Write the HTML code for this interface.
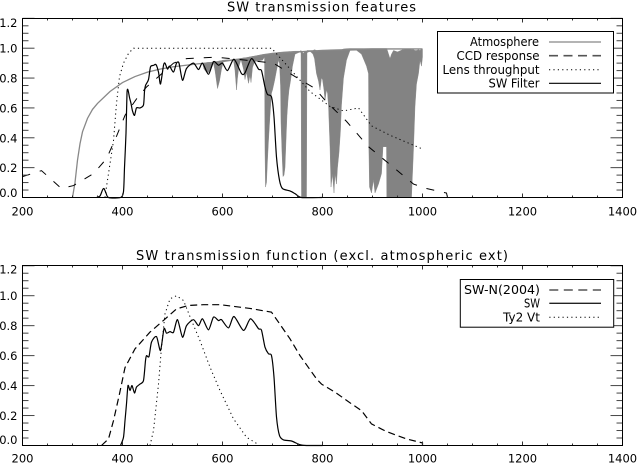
<!DOCTYPE html>
<html>
<head>
<meta charset="utf-8">
<title>SW transmission</title>
<style>
html,body{margin:0;padding:0;background:#fff;}
#chart{display:block;width:637px;height:463px;}
text{font-family:"DejaVu Sans","Liberation Sans",sans-serif;font-size:11.5px;fill:#000;}
.ttl{font-size:13px;}
.lg{font-size:12px;}
</style>
</head>
<body>
<svg id="chart" xmlns="http://www.w3.org/2000/svg" width="637" height="463" viewBox="0 0 637 463">
<g id="top-marks"></g>
<g id="top-axes"></g>
<g id="bottom-marks"></g>
<g id="bottom-axes"></g>
<text class="ttl" x="227" y="11.5" textLength="189" lengthAdjust="spacing">SW transmission features</text>
<text class="ttl" x="136" y="260" textLength="372" lengthAdjust="spacing">SW transmission function (excl. atmospheric ext)</text>

<g>
<rect x="437.5" y="31.5" width="176" height="61.5" fill="#fff" stroke="#000" stroke-width="1"/>
<text class="lg" x="470" y="46" textLength="69" lengthAdjust="spacingAndGlyphs">Atmosphere</text>
<text class="lg" x="456.5" y="60" textLength="83" lengthAdjust="spacingAndGlyphs">CCD response</text>
<text class="lg" x="442.5" y="74" textLength="97" lengthAdjust="spacingAndGlyphs">Lens throughput</text>
<text class="lg" x="488.5" y="87.3" textLength="51" lengthAdjust="spacingAndGlyphs">SW Filter</text>
<line x1="549" x2="601" y1="42" y2="42" stroke="#888" stroke-width="1.2"/>
<line x1="549" x2="601" y1="55.7" y2="55.7" stroke="#555" stroke-width="1.6" stroke-dasharray="9 5.5"/>
<line x1="549" x2="601" y1="69.7" y2="69.7" stroke="#000" stroke-width="1" stroke-dasharray="1.2 3.2"/>
<line x1="549" x2="601" y1="83.3" y2="83.3" stroke="#000" stroke-width="1.1"/>
</g>

<g>
<rect x="460.3" y="279.5" width="153.4" height="47.7" fill="#fff" stroke="#000" stroke-width="1"/>
<text class="lg" x="464" y="294" textLength="76" lengthAdjust="spacingAndGlyphs">SW-N(2004)</text>
<text class="lg" x="524" y="307.7" textLength="16" lengthAdjust="spacingAndGlyphs">SW</text>
<text class="lg" x="503" y="321.7" textLength="37" lengthAdjust="spacingAndGlyphs">Ty2 Vt</text>
<line x1="549.3" x2="601" y1="290" y2="290" stroke="#555" stroke-width="1.6" stroke-dasharray="9 5.5"/>
<line x1="549.3" x2="601" y1="303.3" y2="303.3" stroke="#222" stroke-width="1.3"/>
<line x1="549.3" x2="601" y1="317.3" y2="317.3" stroke="#000" stroke-width="1" stroke-dasharray="1.2 3.2"/>
</g>
</svg>
<script>
var xTickLabels = ["200","400","600","800","1000","1200","1400"];
var xTickValues = [200,400,600,800,1000,1200,1400];
var yTickLabels = ["1.2","1.0","0.8","0.6","0.4","0.2","0.0"];
var yTickValues = [1.2,1.0,0.8,0.6,0.4,0.2,0.0];

var atmosphereWave = [300,305,310,315,320,330,340,350,375,400,425,450,475,500,550,600,650,680,700,800,900,1000];
var atmosphereValue = [0,0.1,0.25,0.36,0.44,0.53,0.59,0.63,0.71,0.77,0.81,0.84,0.86,0.875,0.895,0.91,0.935,0.955,0.965,0.985,0.995,0.995];

var absorbWave = [560,563,570,577,582,585,590,594,598,602,622,625,628,630,633,637,642,645,648,652,655,657,660,664,672,680,684,685,686,688,690,692,695,698,700,704,708,712,714,716,717,719,721,723,725,727,729,731,733,736,740,745,755,757,758,762,765,768,769,775,781,784,788,792,795,798,800,803,805,808,810,812,815,817,820,823,825,828,830,833,836,838,842,848,855,868,878,883,888,892,892.5,894,898,902,905,912,918,921,925,928,928.5,935,938,942,950,960,975,978,982,985,988,992,995,998,1000];
var absorbTop = [0.9,0.9,0.905,0.905,0.91,0.91,0.912,0.915,0.917,0.92,0.925,0.927,0.928,0.928,0.93,0.932,0.935,0.936,0.937,0.94,0.942,0.943,0.945,0.947,0.952,0.957,0.96,0.96,0.96,0.96,0.96,0.962,0.963,0.965,0.966,0.968,0.97,0.972,0.973,0.973,0.974,0.974,0.975,0.975,0.976,0.976,0.977,0.977,0.978,0.978,0.979,0.98,0.98,0.985,0.98,0.965,0.98,0.98,0.985,0.985,0.985,0.99,0.985,0.98,0.985,0.985,0.985,0.985,0.985,0.985,0.985,0.987,0.99,0.99,0.99,0.99,0.99,0.99,0.99,0.99,0.99,0.99,0.995,0.997,0.998,0.998,0.998,0.998,0.998,0.998,0.998,0.998,0.998,0.998,0.998,0.998,0.998,0.998,0.998,0.998,0.998,0.93,0.96,0.985,0.975,0.99,0.995,0.99,0.99,0.985,0.985,0.99,0.985,0.995,0.995];
var absorbBottom = [0.9,0.86,0.83,0.86,0.9,0.85,0.73,0.78,0.86,0.915,0.92,0.85,0.72,0.8,0.88,0.925,0.86,0.79,0.84,0.765,0.82,0.77,0.87,0.91,0.915,0.92,0.94,0.3,0.07,0.1,0.25,0.38,0.55,0.7,0.72,0.78,0.85,0.92,0.9,0.75,0.5,0.3,0.14,0.15,0.2,0.38,0.55,0.65,0.72,0.78,0.88,0.96,0.975,0.97,0,0,0,0,0.97,0.98,0.96,0.93,0.83,0.78,0.72,0.8,0.79,0.72,0.65,0.72,0.7,0.61,0.34,0.07,0.16,0.03,0.16,0.09,0.2,0.3,0.45,0.62,0.8,0.92,0.985,0.986,0.96,0.92,0.88,0.83,0.38,0.07,0.03,0.12,0.03,0.09,0.16,0.34,0.34,0.34,0,0,0,0,0,0,0,0,0.32,0.61,0.76,0.83,0.92,0.88,0.94];

var ccdWave = [200,238,278,302,342,368,388,405,428,448,472,502,528,588,675,702,745,785,808,848,892,982,1008,1048,1050];
var ccdValue = [0.14,0.18,0.06,0.08,0.16,0.26,0.41,0.55,0.66,0.74,0.81,0.9,0.93,0.94,0.91,0.9,0.81,0.73,0.64,0.51,0.34,0.09,0.06,0.03,0];

var lensWave = [365,367,372,382,388,394,402,412,422,698,705,738,775,815,842,872,898,935,982,1000];
var lensValue = [0,0.05,0.16,0.38,0.63,0.81,0.9,0.965,1,1,0.975,0.85,0.71,0.61,0.58,0.6,0.48,0.417,0.35,0.325];

var filterWave = [348,355,360,363,367,372,396,402,404,407,409,411,414,417,420,424,428,435,442,444,446,452,456,462,467,472,476,482,485,490,494,502,508,513,520,528,542,552,560,572,582,592,600,610,623,638,645,658,672,678,685,690,698,703,708,714,720,735,745,758,799];
var filterValue = [0,0.01,0.05,0.06,0.03,0,0,0.04,0.2,0.43,0.7,0.72,0.67,0.63,0.58,0.55,0.6,0.6,0.62,0.71,0.75,0.79,0.875,0.885,0.89,0.84,0.76,0.885,0.9,0.86,0.88,0.84,0.9,0.9,0.785,0.864,0.9,0.857,0.9,0.825,0.91,0.886,0.9,0.85,0.926,0.83,0.835,0.93,0.86,0.85,0.74,0.69,0.674,0.54,0.27,0.115,0.06,0.044,0.026,0,0];

var swnWave = [358,372,382,394,405,425,455,482,508,532,562,595,655,698,712,735,755,788,798,825,858,878,898,928,968,1000,1000];
var swnValue = [0,0.044,0.166,0.345,0.52,0.645,0.757,0.835,0.912,0.935,0.94,0.94,0.915,0.89,0.823,0.712,0.6,0.445,0.41,0.356,0.278,0.233,0.144,0.093,0.044,0.017,0];

var swWave = [396,402,405,408,411,415,419,424,428,435,442,446,448,453,458,468,476,483,488,495,502,510,520,528,542,552,560,572,582,592,598,612,623,642,656,672,678,685,692,698,703,708,714,722,738,755,768,800];
var swValue = [0,0.055,0.166,0.278,0.4,0.367,0.4,0.35,0.39,0.41,0.434,0.567,0.6,0.594,0.69,0.727,0.634,0.78,0.75,0.76,0.756,0.84,0.723,0.8,0.84,0.8,0.846,0.772,0.857,0.834,0.84,0.785,0.861,0.768,0.846,0.78,0.77,0.656,0.612,0.6,0.456,0.19,0.066,0.037,0.03,0.005,0,0];

var vtWave = [455,462,472,478,485,495,508,522,538,555,575,595,622,648,672];
var vtValue = [0,0.1,0.41,0.656,0.879,0.979,1,0.968,0.835,0.7,0.523,0.367,0.178,0.055,0.006];

var SVGNS = "http://www.w3.org/2000/svg";
function xScale(w){ return 22.5 + (w - 200) * 0.5; }
function topY(v){ return 197.5 - 149.3 * v; }
function botY(v){ return 445.5 - 149.8 * v; }

function pointsOf(ws, vs, yFn){
  var p = [];
  for (var i = 0; i < ws.length; i++) p.push(xScale(ws[i]).toFixed(2) + "," + yFn(vs[i]).toFixed(2));
  return p;
}
function addLine(parent, name, ws, vs, yFn, stroke, width, dash){
  var el = document.createElementNS(SVGNS, "polyline");
  
  
  el.setAttribute("points", pointsOf(ws, vs, yFn).join(" "));
  el.setAttribute("fill", "none");
  el.setAttribute("stroke", stroke);
  el.setAttribute("stroke-width", width);
  if (dash) el.setAttribute("stroke-dasharray", dash);
  parent.appendChild(el);
}
function addSmooth(parent, name, ws, vs, yFn, stroke, width){
  var px = [], py = [];
  for (var i = 0; i < ws.length; i++){ px.push(xScale(ws[i])); py.push(yFn(vs[i])); }
  var d = "M" + px[0].toFixed(2) + " " + py[0].toFixed(2);
  for (var k = 0; k < px.length - 1; k++){
    var a = Math.max(k - 1, 0), b = Math.min(k + 2, px.length - 1);
    var c1x = px[k] + (px[k + 1] - px[a]) / 8, c1y = py[k] + (py[k + 1] - py[a]) / 8;
    var c2x = px[k + 1] - (px[b] - px[k]) / 8, c2y = py[k + 1] - (py[b] - py[k]) / 8;
    d += "C" + c1x.toFixed(2) + " " + c1y.toFixed(2) + " " + c2x.toFixed(2) + " " + c2y.toFixed(2) + " " + px[k + 1].toFixed(2) + " " + py[k + 1].toFixed(2);
  }
  var el = document.createElementNS(SVGNS, "path");
  
  
  el.setAttribute("d", d);
  el.setAttribute("fill", "none");
  el.setAttribute("stroke", stroke);
  el.setAttribute("stroke-width", width);
  el.setAttribute("stroke-linejoin", "round");
  parent.appendChild(el);
}
function addSeg(parent, name, x1, y1, x2, y2, stroke){
  var el = document.createElementNS(SVGNS, "line");
  
  
  el.setAttribute("x1", x1);
  el.setAttribute("y1", y1);
  el.setAttribute("x2", x2);
  el.setAttribute("y2", y2);
  el.setAttribute("stroke", stroke);
  el.setAttribute("stroke-width", "1");
  parent.appendChild(el);
}
function addText(parent, name, x, y, str, anchor){
  var el = document.createElementNS(SVGNS, "text");
  
  
  el.setAttribute("x", x);
  el.setAttribute("y", y);
  el.setAttribute("text-anchor", anchor);
  el.textContent = str;
  parent.appendChild(el);
}
function drawAxes(parent, prefix, yFn, top, bottom, xBase, yBases){
  for (var w = 200; w <= 1400; w += 50){
    var major = (w % 200 === 0);
    var len = major ? 4 : 2;
    var tx = xScale(w);
    addSeg(parent, prefix + "-x-tick-bottom", tx, bottom, tx, bottom - len, "#333");
    addSeg(parent, prefix + "-x-tick-top", tx, top, tx, top + len, "#333");
  }
  for (var k = 0; k <= 24; k++){
    var val = k * 0.05;
    var isMajor = (k % 4 === 0);
    var l = isMajor ? 12 : 6;
    var ty = yFn(val);
    addSeg(parent, prefix + "-y-tick-left", 22.5, ty, 22.5 + l, ty, "#444");
    addSeg(parent, prefix + "-y-tick-right", 622.5, ty, 622.5 - l, ty, "#444");
  }
  var frame = document.createElementNS(SVGNS, "rect");
  
  
  frame.setAttribute("x", 22.5);
  frame.setAttribute("y", top);
  frame.setAttribute("width", 600);
  frame.setAttribute("height", bottom - top);
  frame.setAttribute("fill", "none");
  frame.setAttribute("stroke", "#000");
  frame.setAttribute("stroke-width", "1");
  parent.appendChild(frame);
  for (var i = 0; i < xTickValues.length; i++){
    addText(parent, prefix + "-x-tick-label", xScale(xTickValues[i]), xBase, xTickLabels[i], "middle");
  }
  for (var j = 0; j < yTickValues.length; j++){
    addText(parent, prefix + "-y-tick-label", 17.5, yBases(j, yFn(yTickValues[j])), yTickLabels[j], "end");
  }
}

var topMarks = document.getElementById("top-marks");
var botMarks = document.getElementById("bottom-marks");

var upperPts = pointsOf(absorbWave, absorbTop, topY);
var lowerPts = pointsOf(absorbWave, absorbBottom, topY).reverse();
var band = document.createElementNS(SVGNS, "polygon");


band.setAttribute("points", upperPts.concat(lowerPts).join(" "));
band.setAttribute("fill", "#838383");
band.setAttribute("stroke", "#838383");
band.setAttribute("stroke-width", "0.4");
topMarks.appendChild(band);

addLine(topMarks, "atmosphere-line", atmosphereWave, atmosphereValue, topY, "#888", 1.3);
addLine(topMarks, "ccd-response-line", ccdWave, ccdValue, topY, "#000", 1, "8 10");
addLine(topMarks, "lens-throughput-line", lensWave, lensValue, topY, "#000", 1, "1.2 3.2");
addSmooth(topMarks, "sw-filter-line", filterWave, filterValue, topY, "#000", 1.2);

addLine(botMarks, "sw-n-2004-line", swnWave, swnValue, botY, "#000", 1.2, "7 4");
addSmooth(botMarks, "sw-line", swWave, swValue, botY, "#000", 1.2);
addLine(botMarks, "ty2-vt-line", vtWave, vtValue, botY, "#000", 1, "1.2 3.2");

drawAxes(document.getElementById("top-axes"), "top", topY, 18.5, 197.5, 215.5, function(j, ty){
  if (j === 0) return 27;
  if (j === 6) return 197;
  return ty + 4.5;
});
drawAxes(document.getElementById("bottom-axes"), "bottom", botY, 265.5, 445.5, 462.7, function(j, ty){
  if (j === 0) return 273.5;
  if (j === 6) return 444;
  return ty + 4.5;
});
</script>
</body>
</html>
